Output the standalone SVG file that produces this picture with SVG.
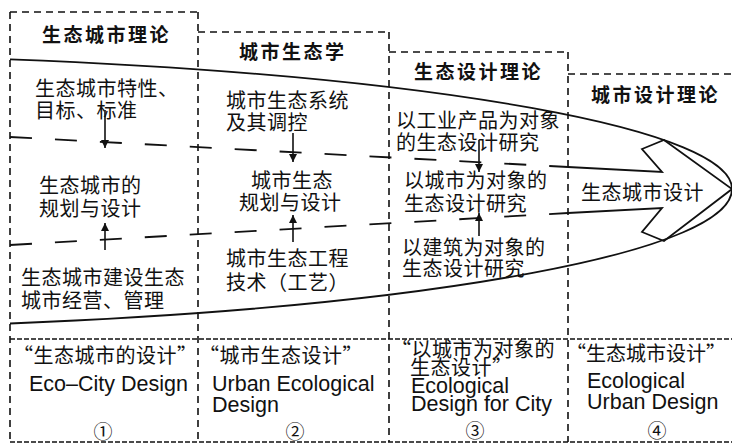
<svg xmlns="http://www.w3.org/2000/svg" width="732" height="445" viewBox="0 0 732 445">
<defs>
<style>
.box{fill:none;stroke:#111;stroke-width:1.6;stroke-dasharray:7 5}
.dense{fill:none;stroke:#111;stroke-width:1.6;stroke-dasharray:5 2}
.ldash{fill:none;stroke:#111;stroke-width:1.8;stroke-dasharray:22 23}
.solid{fill:none;stroke:#111;stroke-width:1.8}
.arr{fill:none;stroke:#111;stroke-width:1.6;marker-end:url(#ah)}
.t{font-family:"Noto Sans CJK SC","Noto Sans",sans-serif;font-size:20px;fill:#111;letter-spacing:0.5px}
.h{font-family:"Noto Sans CJK SC","Noto Sans",sans-serif;font-size:19px;font-weight:bold;fill:#111;letter-spacing:2.5px}
.e{font-family:"Liberation Sans",Arial,sans-serif;font-size:21.5px;fill:#111}
.n{font-family:"Noto Sans CJK SC","DejaVu Sans",sans-serif;font-size:19px;fill:#111}
</style>
<marker id="ah" viewBox="0 0 10 10" refX="10" refY="5" markerWidth="8" markerHeight="9" markerUnits="userSpaceOnUse" orient="auto">
<path d="M0,0 L10,5 L0,10 Z" fill="#111"/>
</marker>
</defs>
<rect width="732" height="445" fill="#fff"/>

<g id="frames">
<path class="box" d="M10,12 H198 M198,32 H389 M389,52 H568 M568,74 H732"/>
<path class="box" d="M10,12 V442 M198,12 V442 M389,32 V442 M568,52 V442"/>
<path class="dense" d="M10,339 H732 M10,442 H732"/>
</g>

<g id="connectors">
<path class="solid" d="M10,59.3 A1000,135 0 0 1 732,189 A1000,140 0 0 1 10,323.5"/>
<path class="ldash" d="M10,137 L568,167"/>
<path class="ldash" d="M10,245 L568,213"/>
<path class="solid" d="M568,167 L662,172 L642,149 L664,140 L732,189 L664,241 L642,232 L662,208 L568,213"/>
<line class="arr" x1="105" y1="110" x2="105" y2="148"/>
<line class="arr" x1="105" y1="250" x2="105" y2="223"/>
<line class="arr" x1="293" y1="133" x2="293" y2="162"/>
<line class="arr" x1="293" y1="242" x2="293" y2="215"/>
<line class="arr" x1="479" y1="140" x2="479" y2="172"/>
<line class="arr" x1="479" y1="236" x2="479" y2="213"/>
</g>

<g id="col1">
<text class="h" x="42" y="42">生态城市理论</text>
<text class="t" x="35" y="95.5">生态城市特性、</text>
<text class="t" x="35" y="117.5">目标、标准</text>
<text class="t" x="39" y="192.5">生态城市的</text>
<text class="t" x="39" y="215.5">规划与设计</text>
<text class="t" x="21" y="284.5">生态城市建设生态</text>
<text class="t" x="21" y="307.5">城市经营、管理</text>
</g>

<g id="col2">
<text class="h" x="239" y="59">城市生态学</text>
<text class="t" x="226" y="107.5">城市生态系统</text>
<text class="t" x="226" y="129.5">及其调控</text>
<text class="t" x="251" y="187.5">城市生态</text>
<text class="t" x="239" y="209.5">规划与设计</text>
<text class="t" x="226" y="265.5">城市生态工程</text>
<text class="t" x="226" y="289.5">技术（工艺）</text>
</g>

<g id="col3">
<text class="h" x="414" y="79">生态设计理论</text>
<text class="t" x="396" y="127.5">以工业产品为对象</text>
<text class="t" x="396" y="149.5">的生态设计研究</text>
<text class="t" x="404" y="187.5">以城市为对象的</text>
<text class="t" x="404" y="210.5">生态设计研究</text>
<text class="t" x="402" y="254.5">以建筑为对象的</text>
<text class="t" x="402" y="275.5">生态设计研究</text>
</g>

<g id="col4">
<text class="h" x="591" y="102">城市设计理论</text>
<text class="t" x="581" y="199.5">生态城市设计</text>
</g>

<g id="legend">
<text class="t" x="13" y="363">“生态城市的设计”</text>
<text class="e" x="29" y="391">Eco–City Design</text>
<text class="n" x="103" y="439" text-anchor="middle">①</text>
<text class="t" x="199" y="363">“城市生态设计”</text>
<text class="e" x="212" y="391">Urban Ecological</text>
<text class="e" x="212" y="412">Design</text>
<text class="n" x="295" y="439" text-anchor="middle">②</text>
<text class="t" x="391" y="357">“以城市为对象的</text>
<text class="t" x="410" y="375">生态设计”</text>
<text class="e" x="411" y="393">Ecological</text>
<text class="e" x="411" y="411">Design for City</text>
<text class="n" x="475" y="438" text-anchor="middle">③</text>
<text class="t" x="566" y="361" style="letter-spacing:0">“生态城市设计”</text>
<text class="e" x="587" y="388">Ecological</text>
<text class="e" x="587" y="409">Urban Design</text>
<text class="n" x="657" y="438" text-anchor="middle">④</text>
</g>
</svg>
